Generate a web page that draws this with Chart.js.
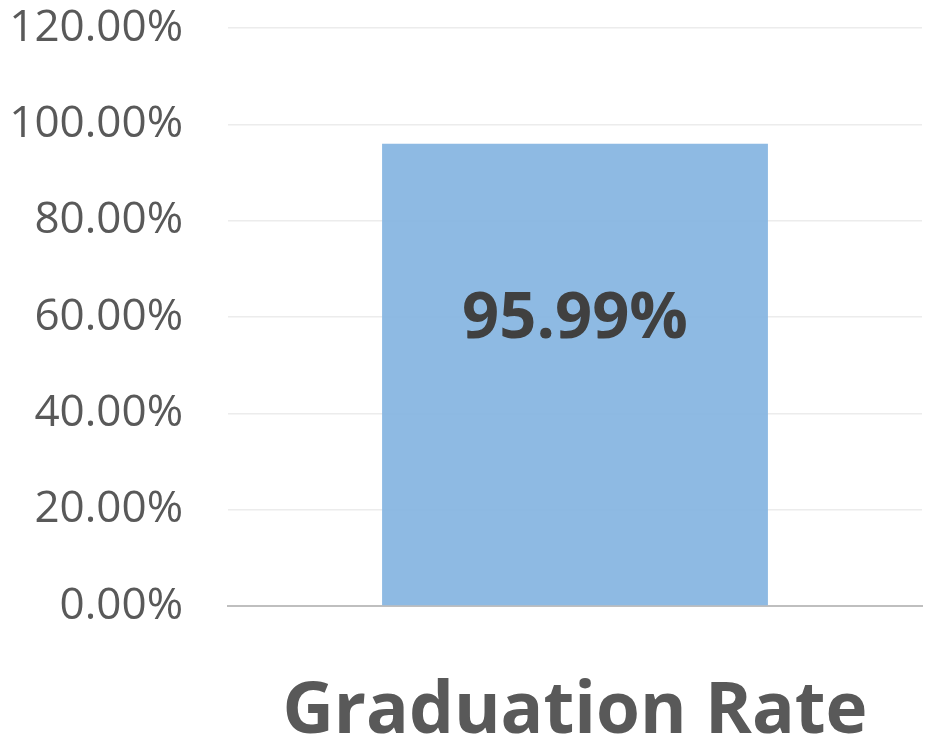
<!DOCTYPE html>
<html>
<head>
<meta charset="utf-8">
<script src="https://cdn.jsdelivr.net/npm/chart.js@4"></script>
<style>
  html, body { margin: 0; padding: 0; background: #fff; }
  #wrap { width: 926px; height: 745px; }
</style>
</head>
<body>
<div id="wrap"><canvas id="rateChart" width="926" height="745"></canvas></div>
<script>
const categories = ['Graduation Rate'];
const rateValues = [95.99];
const yTicks = [0, 20, 40, 60, 80, 100, 120];

// value label drawn inside the bar, bold, like the original
const barLabels = {
  id: 'barLabels',
  afterDatasetsDraw(chart) {
    const {ctx, scales: {y}} = chart;
    chart.getDatasetMeta(0).data.forEach((bar, i) => {
      const v = rateValues[i];
      ctx.save();
      ctx.font = 'bold 65px "Open Sans"';
      ctx.fillStyle = '#404040';
      ctx.textAlign = 'center';
      ctx.textBaseline = 'middle';
      ctx.fillText(v.toFixed(2) + '%', bar.x, y.getPixelForValue(v * 0.62));
      ctx.restore();
    });
  }
};

const ctx = document.getElementById('rateChart').getContext('2d');
new Chart(ctx, {
  type: 'bar',
  data: {
    labels: categories,
    datasets: [{
      data: rateValues,
      backgroundColor: 'rgba(136,182,225,0.95)',
      borderWidth: 0,
      barPercentage: 0.556,
      categoryPercentage: 1
    }]
  },
  options: {
    responsive: false,
    animation: false,
    layout: { padding: { top: 28, right: 4, left: 0, bottom: 0 } },
    plugins: {
      legend: { display: false },
      tooltip: { enabled: false }
    },
    scales: {
      x: {
        grid: { display: false },
        border: { display: true, color: '#bfbfbf', width: 2 },
        ticks: { font: { family: 'Open Sans', size: 71, weight: 'bold' }, color: '#595959', padding: 56 },
        afterFit: s => { s.height = 139; }
      },
      y: {
        min: 0,
        max: 120,
        afterBuildTicks: s => { s.ticks = yTicks.map(v => ({value: v})); },
        grid: { color: '#ececec', lineWidth: 1.5, drawTicks: false },
        border: { display: false },
        ticks: {
          font: { family: 'Open Sans', size: 44, lineHeight: 0.4 },
          color: '#595959',
          padding: 45,
          callback: v => v.toFixed(2) + '%'
        },
        afterFit: s => { s.width = 228; s.paddingTop = 0; s.paddingBottom = 0; }
      }
    }
  },
  plugins: [barLabels]
});
</script>
</body>
</html>
